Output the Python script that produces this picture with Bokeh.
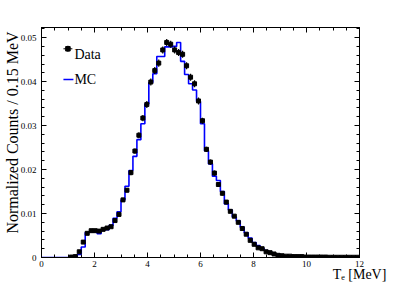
import numpy as np
from bokeh.plotting import figure
from bokeh.models import (Range1d, LinearAxis, FixedTicker, CustomJSTickFormatter,
                          Label, ColumnDataSource)
from bokeh.embed import file_html
from bokeh.resources import INLINE

# ---------------- data ----------------
bin_width = 0.15
x_lo, x_hi = 0.0, 12.0
y_hi = 0.0523

data_vals = [None, None, None, None, None, None, None,
             0.0001, 0.0002, 0.0013, 0.0035, 0.0055, 0.0061, 0.0061, 0.0060, 0.0064, 0.0067,
             0.0070, 0.0084, 0.0098, 0.0131, 0.0153, 0.0193, 0.0242, 0.0278, 0.0317, 0.0348,
             0.0399, 0.0425, 0.0442, 0.0472, 0.0489, 0.0485, 0.0472, 0.0466, 0.0462, 0.0436,
             0.0410, 0.0395, 0.0356, 0.0311, 0.0246, 0.0217, 0.0192, 0.0166, 0.0146, 0.0126,
             0.0105, 0.0094, 0.0080, 0.0066, 0.0053, 0.0039, 0.0030, 0.0022, 0.0020, 0.0013,
             0.0011, 0.0008, 0.0005, 0.0004, 0.0003, 0.0003, 0.0002, 0.0002, 0.0002, 0.0001,
             0.0001, 0.0001, 0.0001, 0.0001, 0.0001, 0.00005, 0.00005, 0.00005, 0.00005, 0.00005,
             0.00005, 0.00005, 0.00005]

data_errs = [None, None, None, None, None, None, None,
             0.0001, 0.0001, 0.0002, 0.0003, 0.0003, 0.0003, 0.0003, 0.0003, 0.0003, 0.0003,
             0.0003, 0.0004, 0.0004, 0.0005, 0.0005, 0.0006, 0.0006, 0.0007, 0.0007, 0.0008,
             0.0008, 0.0008, 0.0008, 0.0008, 0.0008, 0.0008, 0.0008, 0.0008, 0.0008, 0.0008,
             0.0008, 0.0008, 0.0008, 0.0007, 0.0006, 0.0006, 0.0006, 0.0005, 0.0005, 0.0005,
             0.0004, 0.0004, 0.0004, 0.0003, 0.0003, 0.0003, 0.0002, 0.0002, 0.0002, 0.0001,
             0.0001, 0.0001, 0.0001, 0.0001, 0.0001, 0.0001, 0.0001, 0.0001, 0.0001, 0.0001,
             0.00005, 0.00005, 0.00005, 0.00005, 0.00005, 0.00005, 0.00005, 0.00005, 0.00005, 0.00005,
             0.00005, 0.00005, 0.00005]

mc_vals = [0, 0, 0, 0, 0, 0, 0,
           0.00005, 0.0001, 0.0007, 0.0024, 0.0057, 0.0058, 0.0058, 0.0054, 0.0062, 0.0063,
           0.0073, 0.0089, 0.0104, 0.0131, 0.0162, 0.0198, 0.0230, 0.0268, 0.0304, 0.0349,
           0.0398, 0.0418, 0.0457, 0.0457, 0.0479, 0.0479, 0.0480, 0.0489, 0.0446, 0.0416,
           0.0395, 0.0381, 0.0355, 0.0304, 0.0243, 0.0213, 0.0185, 0.0175, 0.0150, 0.0122,
           0.0108, 0.0092, 0.0083, 0.0069, 0.0056, 0.0044, 0.0034, 0.0027, 0.0021, 0.0016,
           0.0012, 0.0009, 0.0007, 0.0005, 0.0004, 0.0003, 0.0002, 0.0002, 0.0001, 0.0001,
           0.0001, 0.0001, 0.00005, 0.00005, 0.00005, 0.00005, 0.00005, 0.00003, 0.00003, 0.00003,
           0.00003, 0.00003, 0.00003]

x_major = [0, 2, 4, 6, 8, 10, 12]
y_major = [0, 0.01, 0.02, 0.03, 0.04, 0.05]

series_labels = ["Data", "MC"]
x_title = "T\u2091 [MeV]"
y_title = "Normalized Counts / 0.15 MeV"

# ---------------- derived ----------------
n = len(mc_vals)
edges = x_lo + bin_width * np.arange(n + 1)
centers = edges[:-1] + bin_width / 2

idx = [i for i, v in enumerate(data_vals) if v is not None]
dx = centers[idx]
dy = np.array([data_vals[i] for i in idx])
de = np.array([data_errs[i] for i in idx])
src = ColumnDataSource(dict(x=dx, y=dy, lo=dy - de, hi=dy + de,
                            x0=dx - bin_width / 2, x1=dx + bin_width / 2))

FONT = "Liberation Serif"

p = figure(width=399, height=286, x_range=Range1d(x_lo, x_hi), y_range=Range1d(0, y_hi),
           output_backend="svg", toolbar_location=None,
           min_border_left=40, min_border_right=40, min_border_top=27, min_border_bottom=29)
p.grid.visible = False
p.outline_line_color = "black"
p.outline_line_width = 1
p.background_fill_color = "white"

x_minor = list(np.arange(0, 12.001, 0.5))
y_minor = list(np.arange(0, y_hi, 0.002))

def style_axis(ax, labels=True):
    ax.major_tick_in = 5
    ax.major_tick_out = 0
    ax.minor_tick_in = 3
    ax.minor_tick_out = 0
    ax.major_tick_line_color = "black"
    ax.minor_tick_line_color = "black"
    ax.axis_line_color = "black"
    ax.major_label_text_font = FONT
    ax.major_label_text_color = "black"
    ax.major_label_text_font_size = "9px"
    if not labels:
        ax.formatter = CustomJSTickFormatter(code="return '';")
        ax.major_label_standoff = 0

xax = p.below[0]
yax = p.left[0]
xax.ticker = FixedTicker(ticks=x_major, minor_ticks=x_minor)
yax.ticker = FixedTicker(ticks=y_major, minor_ticks=y_minor)
yax.formatter = CustomJSTickFormatter(code="return tick == 0 ? '0' : tick.toFixed(2);")
style_axis(xax)
style_axis(yax)
xax.major_label_standoff = 3
yax.major_label_standoff = 5

top_ax = LinearAxis(ticker=FixedTicker(ticks=x_major, minor_ticks=x_minor))
style_axis(top_ax, labels=False)
p.add_layout(top_ax, "above")
right_ax = LinearAxis(ticker=FixedTicker(ticks=y_major, minor_ticks=y_minor))
style_axis(right_ax, labels=False)
p.add_layout(right_ax, "right")

# axis titles
pad = "\u00a0" * 5
yax.axis_label = pad + y_title
yax.axis_label_text_font = FONT
yax.axis_label_text_font_size = "16px"
yax.axis_label_text_font_style = "normal"
yax.axis_label_text_color = "black"
yax.axis_label_standoff = -3
xax.axis_label = x_title
xax.axis_label_text_font = FONT
xax.axis_label_text_font_size = "14px"
xax.axis_label_text_font_style = "normal"
xax.axis_label_text_color = "black"
xax.axis_label_standoff = -3
if "axis_label_align" in xax.properties():
    xax.axis_label_align = "end"

# MC histogram
p.step(x=list(edges), y=list(mc_vals) + [mc_vals[-1]], mode="after",
       line_color="#0000ff", line_width=1.6)

# Data points
p.segment(x0="x", y0="lo", x1="x", y1="hi", source=src, line_color="black", line_width=1.2)
p.segment(x0="x0", y0="y", x1="x1", y1="y", source=src, line_color="black", line_width=1)
p.scatter("x", "y", source=src, marker="square", size=4, color="black")

# Legend (manual, ROOT style)
px_x = (x_hi - x_lo) / 319.0
px_y = y_hi / 230.0
lx0 = 22 * px_x
lx1 = 31 * px_x
ly_data = y_hi - 21.3 * px_y
ly_mc = y_hi - 52 * px_y
p.segment(x0=[lx0], y0=[ly_data], x1=[lx1], y1=[ly_data], line_color="black", line_width=1)
p.segment(x0=[(lx0 + lx1) / 2], y0=[ly_data - 3 * px_y], x1=[(lx0 + lx1) / 2],
          y1=[ly_data + 3 * px_y], line_color="black", line_width=1.2)
p.scatter([(lx0 + lx1) / 2], [ly_data], marker="square", size=4.5, color="black")
p.segment(x0=[lx0], y0=[ly_mc], x1=[32 * px_x], y1=[ly_mc], line_color="#0000ff", line_width=1.6)
p.add_layout(Label(x=33 * px_x, y=y_hi - 26.5 * px_y, text=series_labels[0],
                   text_font=FONT, text_font_size="14px", text_color="black",
                   text_align="left", text_baseline="alphabetic"))
p.add_layout(Label(x=33 * px_x, y=ly_mc - 0.3 * px_y, text=series_labels[1],
                   text_font=FONT, text_font_size="14px", text_color="black",
                   text_align="left", text_baseline="alphabetic"))

open("out.html", "w").write(file_html(p, INLINE))
